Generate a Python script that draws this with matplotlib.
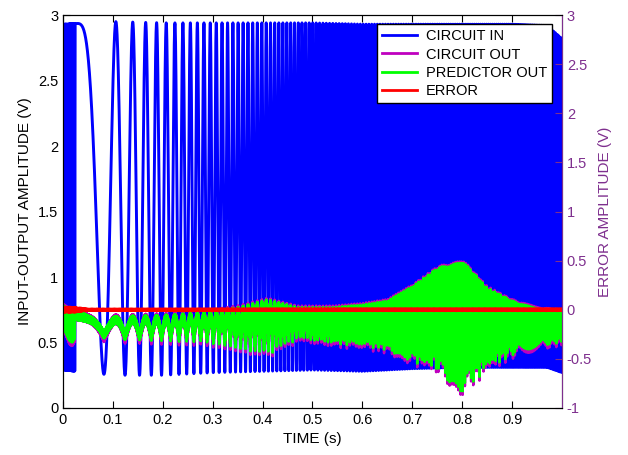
import numpy as np
import matplotlib
matplotlib.use("Agg")
import matplotlib.pyplot as plt
from matplotlib.ticker import FormatStrFormatter
from matplotlib.lines import Line2D

plt.rcParams["font.family"] = ["Liberation Sans", "DejaVu Sans"]
plt.rcParams["axes.unicode_minus"] = False

# chirp: first peak at t0, N-th peak at t0 + sqrt(N / k)
t0 = 0.0243          # s
k = 150.0            # cycles / s^2
burst_f = 700.0      # Hz, dense part before t0

# CIRCUIT IN envelope (V, left axis)
blue_t = [0.0, 0.1, 0.2, 0.3, 0.4, 0.5, 0.6, 0.7, 0.8, 0.9, 0.97, 1.0]
blue_top = [2.93, 2.95, 2.94, 2.94, 2.94, 2.94, 2.93, 2.93, 2.93, 2.93, 2.92, 2.82]
blue_bot = [0.29, 0.25, 0.25, 0.27, 0.28, 0.29, 0.28, 0.30, 0.31, 0.31, 0.31, 0.27]

# PREDICTOR OUT envelope (V, left axis)
g_t = [0.0, 0.02, 0.05, 0.1, 0.2, 0.28, 0.35, 0.41, 0.47, 0.54, 0.6, 0.65,
       0.7, 0.75, 0.8, 0.85, 0.9, 0.95, 1.0]
g_hi = [0.78, 0.76, 0.71, 0.70, 0.71, 0.73, 0.77, 0.83, 0.77, 0.77, 0.79, 0.82,
        0.93, 1.07, 1.13, 0.92, 0.82, 0.76, 0.74]
g_lo = [0.50, 0.50, 0.55, 0.52, 0.51, 0.50, 0.45, 0.40, 0.52, 0.49, 0.47, 0.44,
        0.35, 0.27, 0.11, 0.29, 0.40, 0.46, 0.50]

# CIRCUIT OUT sits slightly outside the predictor band
m_hi_extra = 0.012
m_lo_extra = 0.028

# ERROR ripple amplitude (V, right axis)
err_t = [0.0, 0.02, 0.05, 0.5, 1.0]
err_amp = [0.03, 0.03, 0.01, 0.012, 0.012]

t = np.linspace(0, 1, 40001)
phase = np.where(t >= t0, 2 * np.pi * k * (t - t0) ** 2,
                 2 * np.pi * burst_f * (t - t0))

top = np.interp(t, blue_t, blue_top)
bot = np.interp(t, blue_t, blue_bot)
circuit_in = (top + bot) / 2 + (top - bot) / 2 * np.cos(phase)

shape = 0.68 * (2 * np.abs(np.cos(phase / 2)) - 1) + 0.32 * np.cos(2 * np.pi * 1370 * t)
hi = np.interp(t, g_t, g_hi)
lo = np.interp(t, g_t, g_lo)
pred_out = (hi + lo) / 2 + (hi - lo) / 2 * shape
hi_m = hi + m_hi_extra
lo_m = lo - m_lo_extra
circuit_out = (hi_m + lo_m) / 2 + (hi_m - lo_m) / 2 * shape

ea = np.interp(t, err_t, err_amp)
error = ea * (0.55 * np.cos(2 * np.pi * 433 * t) + 0.45 * np.cos(2 * np.pi * 1210 * t + 1))

purple = (0.494, 0.184, 0.556)

fig = plt.figure(figsize=(6.28, 4.55), dpi=100)
ax = fig.add_axes([0.1003, 0.1033, 0.7946, 0.8637])
ax.plot(t, circuit_in, color="b", lw=2.1)
ax.plot(t, circuit_out, color="m", lw=1.8)
ax.plot(t, pred_out, color=(0, 1, 0), lw=1.8)
ax.set_xlim(0, 1)
ax.set_ylim(0, 3)
ax.set_xticks(np.arange(0, 1.0, 0.1))
ax.set_yticks(np.arange(0, 3.01, 0.5))
ax.xaxis.set_major_formatter(FormatStrFormatter("%g"))
ax.yaxis.set_major_formatter(FormatStrFormatter("%g"))
ax.tick_params(direction="in", length=5, labelsize=10.5, top=True, colors="k")
ax.set_xlabel("TIME (s)", fontsize=11)
ax.set_ylabel("INPUT-OUTPUT AMPLITUDE (V)", fontsize=11)

ax2 = ax.twinx()
ax2.plot(t, error, color="r", lw=1.8)
ax2.set_ylim(-1, 3)
ax2.set_yticks(np.arange(-1, 3.01, 0.5))
ax2.yaxis.set_major_formatter(FormatStrFormatter("%g"))
ax2.tick_params(direction="in", length=5, labelsize=10.5, colors=purple)
ax2.set_ylabel("ERROR AMPLITUDE (V)", fontsize=11, color=purple)
for a in (ax, ax2):
    for s in ("left", "bottom", "top"):
        a.spines[s].set_color("k")
ax2.spines["right"].set_color(purple)

handles = [Line2D([], [], color="b", lw=2), Line2D([], [], color="m", lw=2),
           Line2D([], [], color=(0, 1, 0), lw=2), Line2D([], [], color="r", lw=2)]
labels = ["CIRCUIT IN", "CIRCUIT OUT", "PREDICTOR OUT", "ERROR"]
leg = ax2.legend(handles, labels, loc="upper right", bbox_to_anchor=(0.98, 0.977),
                 borderaxespad=0, fancybox=False, framealpha=1, edgecolor="k",
                 fontsize=10.5, handlelength=2.4, labelspacing=0.3, borderpad=0.35,
                 handletextpad=0.6)
leg.get_frame().set_linewidth(1.0)

fig.savefig("out.png", dpi=100)
